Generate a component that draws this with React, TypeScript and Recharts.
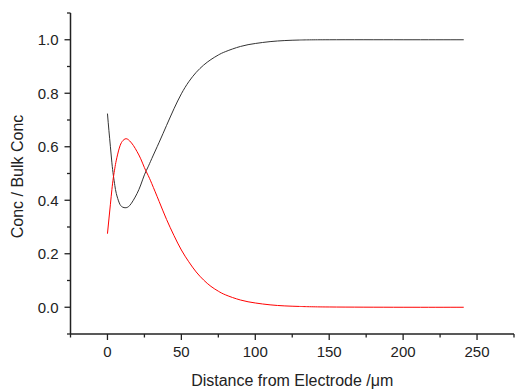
import React from 'react';
import { LineChart, Line, XAxis, YAxis, Label } from 'recharts';

const distances = [0, 1, 2, 3, 4, 5, 6, 8, 10, 12.5, 15, 17.5, 20, 22.5, 25, 27.5, 30, 35, 40, 45, 50, 55, 60, 65, 70, 75, 80, 90, 100, 110, 120, 130, 150, 200, 241];
const blackConc = [0.724, 0.66, 0.6, 0.54, 0.493, 0.455, 0.425, 0.39, 0.375, 0.372, 0.38, 0.4, 0.425, 0.457, 0.495, 0.525, 0.556, 0.617, 0.68, 0.742, 0.798, 0.843, 0.878, 0.905, 0.926, 0.943, 0.956, 0.975, 0.986, 0.993, 0.997, 0.999, 1.0, 1.0, 1.0];
const redConc = [0.275, 0.33, 0.385, 0.44, 0.485, 0.52, 0.55, 0.595, 0.62, 0.63, 0.622, 0.605, 0.582, 0.555, 0.522, 0.493, 0.462, 0.395, 0.328, 0.268, 0.214, 0.17, 0.132, 0.102, 0.078, 0.06, 0.046, 0.027, 0.016, 0.009, 0.005, 0.003, 0.001, 0, 0];

const xTicks = [-25, 0, 25, 50, 75, 100, 125, 150, 175, 200, 225, 250, 275];
const yTicks = [-0.1, 0, 0.1, 0.2, 0.3, 0.4, 0.5, 0.6, 0.7, 0.8, 0.9, 1.0, 1.1];

const data = distances.map((d, i) => ({ x: d, a: blackConc[i], b: redConc[i] }));

const AXIS = '#222';
const FONT = '"Liberation Sans", Arial, sans-serif';

const XTick = (props: any) => {
  const { x, y, payload } = props;
  const v = payload.value;
  const major = Math.round(v) % 50 === 0;
  return (
    <g>
      <line x1={x} y1={y} x2={x} y2={y + (major ? 6 : 3.5)} stroke={AXIS} strokeWidth={1.3} />
      {major && (
        <text x={x} y={y + 23} textAnchor="middle" fontSize={15} fill="#222" fontFamily={FONT}>
          {v}
        </text>
      )}
    </g>
  );
};

const YTick = (props: any) => {
  const { x, y, payload } = props;
  const v = payload.value;
  const major = Math.round(v * 10) % 2 === 0;
  return (
    <g>
      <line x1={x} y1={y} x2={x - (major ? 6 : 3.5)} y2={y} stroke={AXIS} strokeWidth={1.3} />
      {major && (
        <text x={x - 12} y={y} dy="0.36em" textAnchor="end" fontSize={15} fill="#222" fontFamily={FONT}>
          {v.toFixed(1)}
        </text>
      )}
    </g>
  );
};

const YLabel = (props: any) => {
  const vb = props.viewBox || { x: 0, y: 13, width: 70, height: 321 };
  const cx = vb.x + 17;
  const cy = vb.y + vb.height / 2 + 3;
  return (
    <text x={cx} y={cy} transform={`rotate(-90 ${cx} ${cy})`} textAnchor="middle" dominantBaseline="central" fontSize={16} fill="#222" fontFamily={FONT}>
      Conc / Bulk Conc
    </text>
  );
};

const XLabel = (props: any) => {
  const vb = props.viewBox || { x: 70, y: 334, width: 444, height: 55 };
  const cx = vb.x + vb.width / 2;
  return (
    <text x={cx} y={vb.y + 51.5} textAnchor="middle" fontSize={16} fill="#222" fontFamily={FONT}>
      Distance from Electrode /μm
    </text>
  );
};

export default function App() {
  return (
    <div style={{ position: 'absolute', left: 0, top: 0, background: '#fff' }}>
      <LineChart width={515} height={389} data={data} margin={{ top: 13, right: 1, bottom: 0, left: 0 }}>
        <XAxis
          type="number"
          dataKey="x"
          domain={[-25, 275]}
          ticks={xTicks}
          interval={0}
          tick={<XTick />}
          tickLine={false}
          tickSize={0}
          tickMargin={0}
          axisLine={{ stroke: AXIS, strokeWidth: 1.5 }}
          height={55}
          allowDataOverflow
        >
          <Label content={<XLabel />} />
        </XAxis>
        <YAxis
          type="number"
          domain={[-0.1, 1.1]}
          ticks={yTicks}
          interval={0}
          tick={<YTick />}
          tickLine={false}
          tickSize={0}
          tickMargin={0}
          axisLine={{ stroke: AXIS, strokeWidth: 1.5 }}
          width={70.5}
          allowDataOverflow
        >
          <Label content={<YLabel />} />
        </YAxis>
        <Line type="natural" dataKey="a" stroke="#333" strokeWidth={1} dot={false} isAnimationActive={false} />
        <Line type="natural" dataKey="b" stroke="#f00" strokeWidth={1} dot={false} isAnimationActive={false} />
      </LineChart>
    </div>
  );
}
